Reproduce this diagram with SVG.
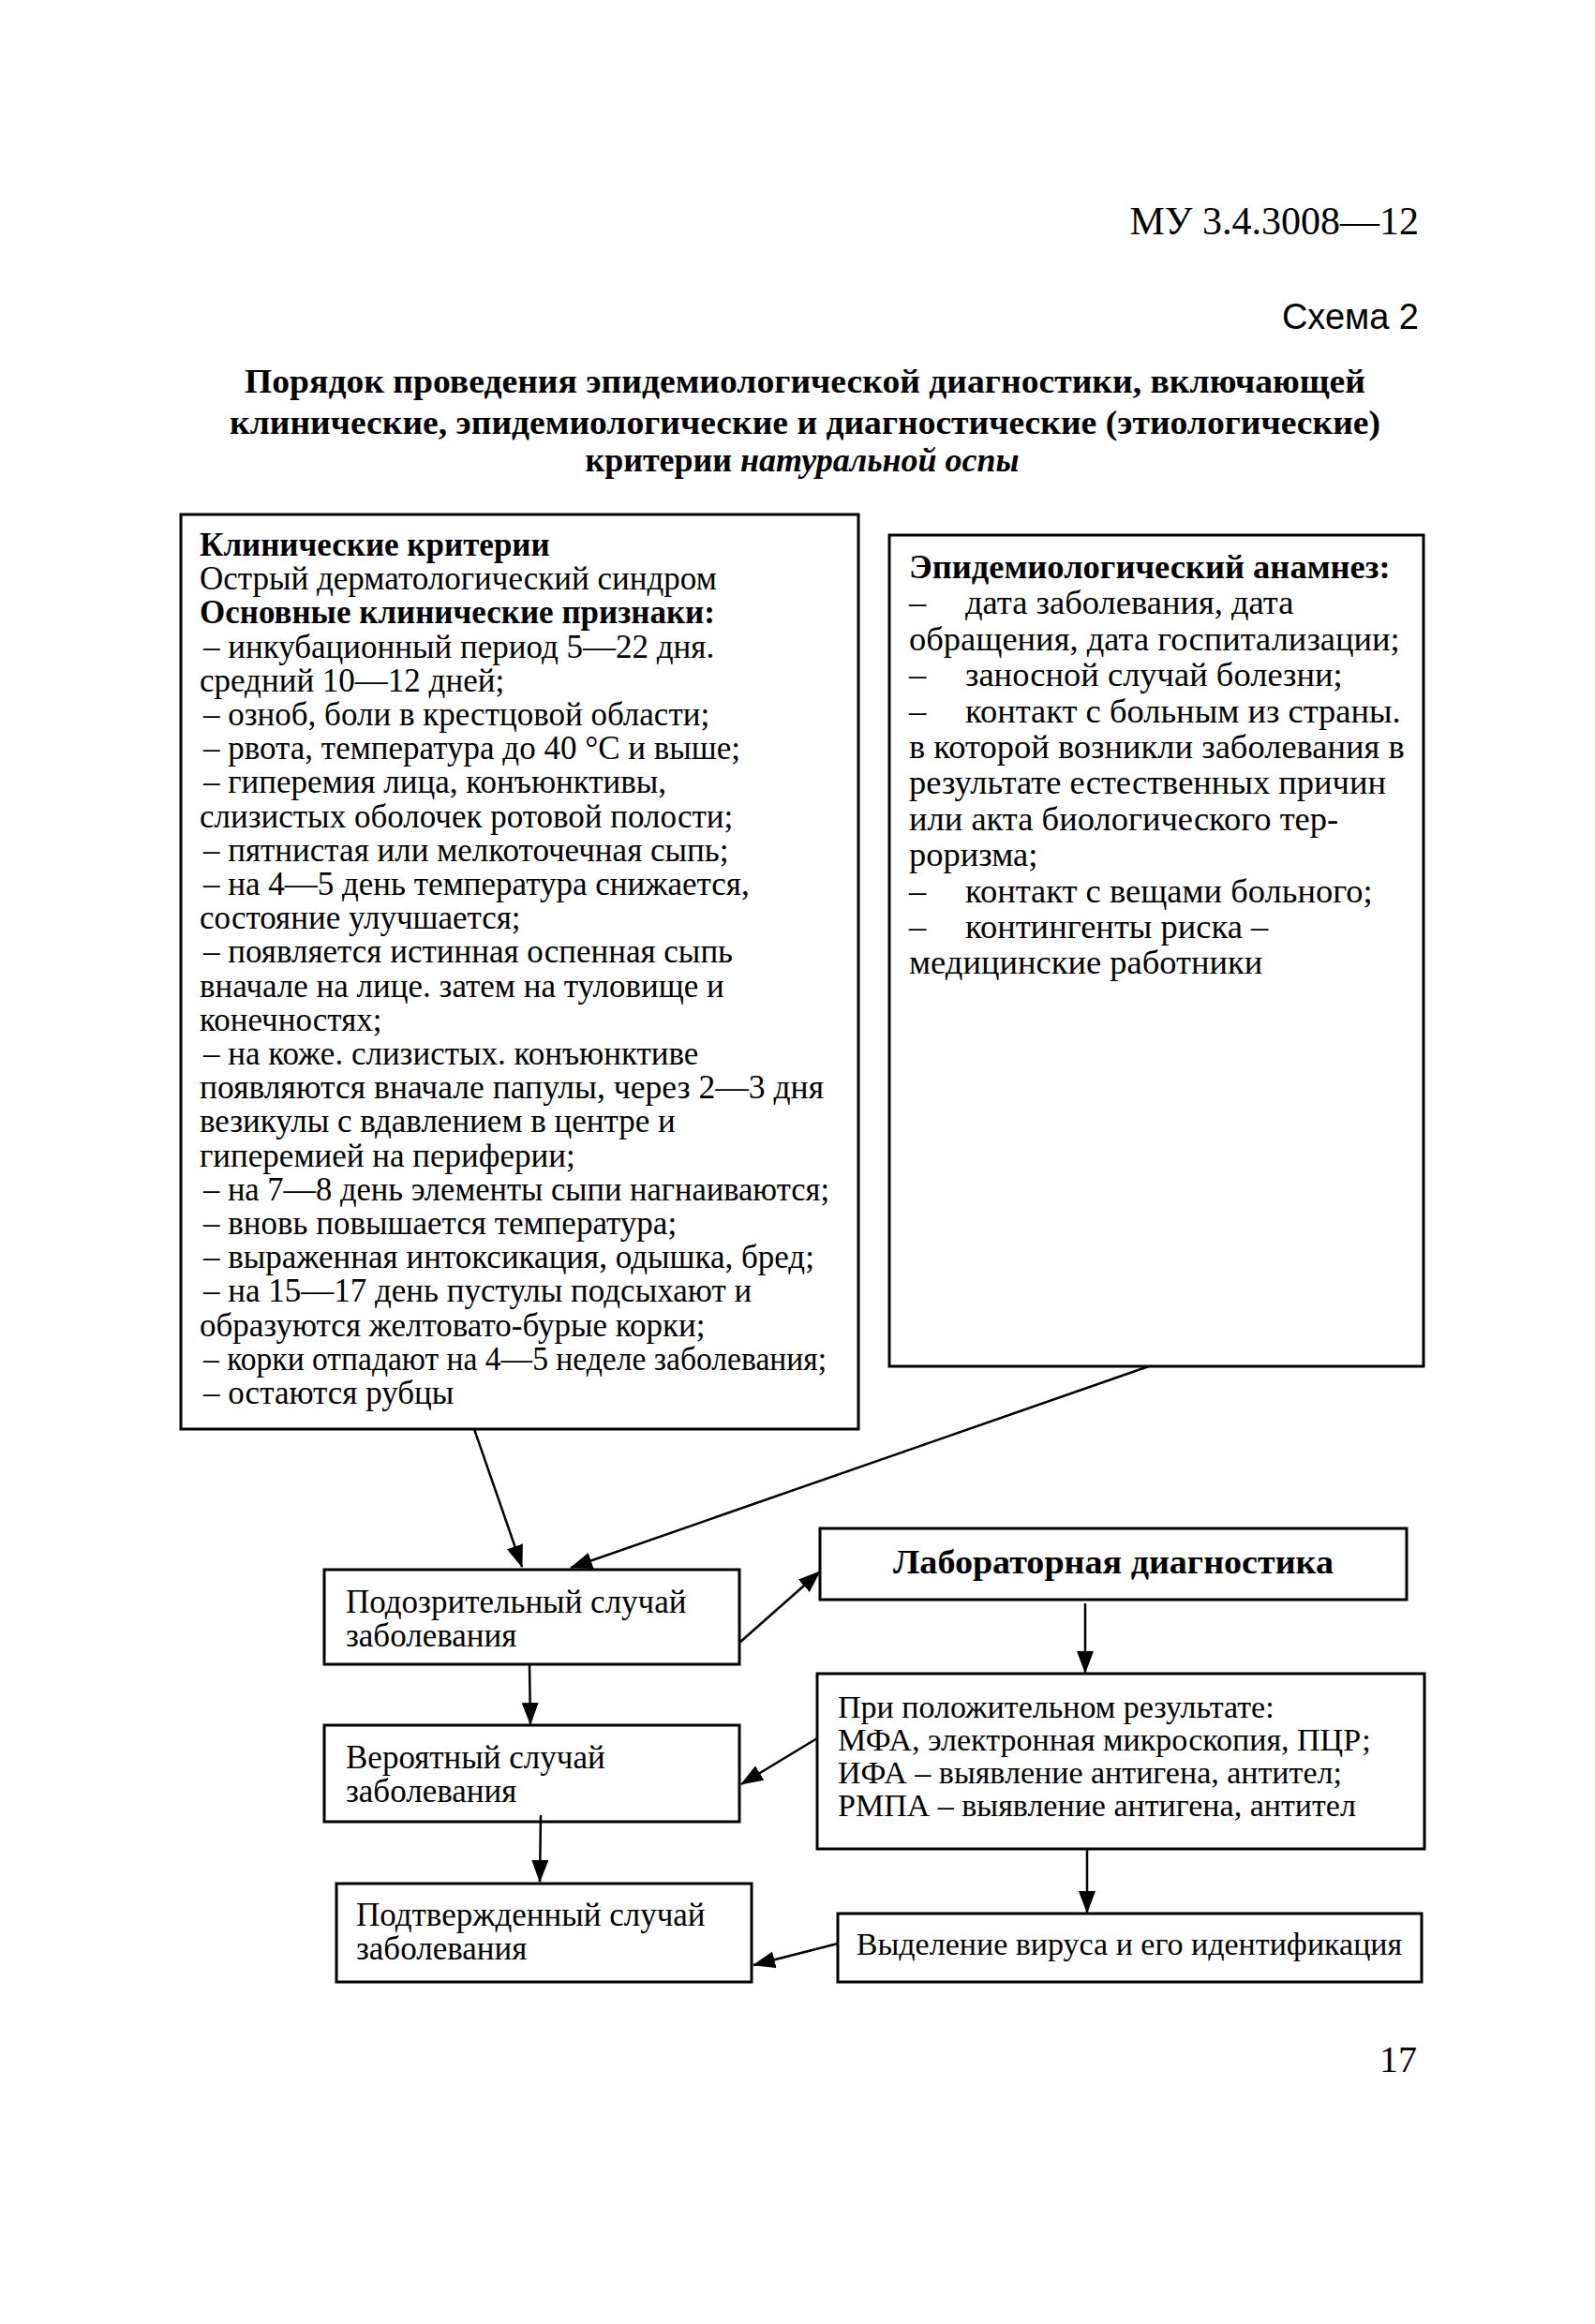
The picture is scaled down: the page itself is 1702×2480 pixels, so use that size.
<svg xmlns="http://www.w3.org/2000/svg" width="1702" height="2480" viewBox="0 0 1702 2480">
<style>
.t{font-family:"Liberation Serif","Times New Roman",serif;fill:#000}
.s{font-family:"Liberation Sans",Arial,sans-serif;fill:#000}
.b{font-weight:bold}
.i{font-style:italic}
.box{fill:#fff;stroke:#000;stroke-width:3}
.c{stroke:#000;stroke-width:2.5;fill:none}
.l{font-size:35px}
.r{font-size:36.5px}
.f{font-size:35px}
.g{font-size:34px}
</style>
<defs>
<marker id="ah" markerWidth="24" markerHeight="18" refX="23" refY="9" orient="auto" markerUnits="userSpaceOnUse">
<path d="M0,0 L24,9 L0,18 Z" fill="#000"/>
</marker>
</defs>
<rect x="0" y="0" width="1702" height="2480" fill="#fff"/>

<g id="header">
<text class="t" x="1514" y="250" font-size="42" text-anchor="end">МУ 3.4.3008—12</text>
<text class="s" x="1514" y="351" font-size="38" text-anchor="end">Схема 2</text>
<text class="t b" x="859" y="419" font-size="36" text-anchor="middle" textLength="1196" lengthAdjust="spacingAndGlyphs">Порядок проведения эпидемиологической диагностики, включающей</text>
<text class="t b" x="859" y="463" font-size="36" text-anchor="middle" textLength="1228" lengthAdjust="spacingAndGlyphs">клинические, эпидемиологические и диагностические (этиологические)</text>
<text class="t b" x="856" y="503" font-size="36" text-anchor="middle">критерии <tspan class="i">натуральной оспы</tspan></text>
</g>

<g id="node-clinical">
<rect class="box" x="193" y="549" width="723" height="976"/>
<text class="t l b" x="213" y="593">Клинические критерии</text>
<text class="t l" x="213" y="629">Острый дерматологический синдром</text>
<text class="t l b" x="213" y="665">Основные клинические признаки:</text>
<text class="t l" x="217" y="702">– инкубационный период 5—22 дня.</text>
<text class="t l" x="213" y="738">средний 10—12 дней;</text>
<text class="t l" x="217" y="774">– озноб, боли в крестцовой области;</text>
<text class="t l" x="217" y="810">– рвота, температура до 40 °С и выше;</text>
<text class="t l" x="217" y="846">– гиперемия лица, конъюнктивы,</text>
<text class="t l" x="213" y="883">слизистых оболочек ротовой полости;</text>
<text class="t l" x="217" y="919">– пятнистая или мелкоточечная сыпь;</text>
<text class="t l" x="217" y="955">– на 4—5 день температура снижается,</text>
<text class="t l" x="213" y="991">состояние улучшается;</text>
<text class="t l" x="217" y="1027">– появляется истинная оспенная сыпь</text>
<text class="t l" x="213" y="1064">вначале на лице. затем на туловище и</text>
<text class="t l" x="213" y="1100">конечностях;</text>
<text class="t l" x="217" y="1136">– на коже. слизистых. конъюнктиве</text>
<text class="t l" x="213" y="1172" textLength="666" lengthAdjust="spacingAndGlyphs">появляются вначале папулы, через 2—3 дня</text>
<text class="t l" x="213" y="1208">везикулы с вдавлением в центре и</text>
<text class="t l" x="213" y="1245">гиперемией на периферии;</text>
<text class="t l" x="217" y="1281" textLength="668" lengthAdjust="spacingAndGlyphs">– на 7—8 день элементы сыпи нагнаиваются;</text>
<text class="t l" x="217" y="1317">– вновь повышается температура;</text>
<text class="t l" x="217" y="1353">– выраженная интоксикация, одышка, бред;</text>
<text class="t l" x="217" y="1389">– на 15—17 день пустулы подсыхают и</text>
<text class="t l" x="213" y="1426">образуются желтовато-бурые корки;</text>
<text class="t l" x="217" y="1462" textLength="665" lengthAdjust="spacingAndGlyphs">– корки отпадают на 4—5 неделе заболевания;</text>
<text class="t l" x="217" y="1498">– остаются рубцы</text>
</g>

<g id="node-epid">
<rect class="box" x="949" y="571" width="570" height="887"/>
<text class="t r b" x="970" y="617">Эпидемиологический анамнез:</text>
<text class="t r" x="970" y="655">–<tspan x="1030">дата заболевания, дата</tspan></text>
<text class="t r" x="970" y="694">обращения, дата госпитализации;</text>
<text class="t r" x="970" y="732">–<tspan x="1030">заносной случай болезни;</tspan></text>
<text class="t r" x="970" y="771">–<tspan x="1030">контакт с больным из страны.</tspan></text>
<text class="t r" x="970" y="809">в которой возникли заболевания в</text>
<text class="t r" x="970" y="847">результате естественных причин</text>
<text class="t r" x="970" y="886">или акта биологического тер-</text>
<text class="t r" x="970" y="924">роризма;</text>
<text class="t r" x="970" y="963">–<tspan x="1030">контакт с вещами больного;</tspan></text>
<text class="t r" x="970" y="1001">–<tspan x="1030">контингенты риска –</tspan></text>
<text class="t r" x="970" y="1039">медицинские работники</text>
</g>

<g id="node-suspect">
<rect class="box" x="346" y="1675" width="443" height="101"/>
<text class="t f" x="369" y="1721">Подозрительный случай</text>
<text class="t f" x="369" y="1757">заболевания</text>
</g>

<g id="node-probable">
<rect class="box" x="346" y="1841" width="443" height="103"/>
<text class="t f" x="369" y="1887">Вероятный случай</text>
<text class="t f" x="369" y="1923">заболевания</text>
</g>

<g id="node-confirmed">
<rect class="box" x="359" y="2010" width="443" height="105"/>
<text class="t f" x="380" y="2055">Подтвержденный случай</text>
<text class="t f" x="380" y="2091">заболевания</text>
</g>

<g id="node-lab">
<rect class="box" x="875" y="1631" width="626" height="76"/>
<text class="t f b" x="1188" y="1679" text-anchor="middle" textLength="470" lengthAdjust="spacingAndGlyphs">Лабораторная диагностика</text>
</g>

<g id="node-positive">
<rect class="box" x="872" y="1786" width="648" height="187"/>
<text class="t g" x="894" y="1833">При положительном результате:</text>
<text class="t g" x="894" y="1868">МФА, электронная микроскопия, ПЦР;</text>
<text class="t g" x="894" y="1903">ИФА – выявление антигена, антител;</text>
<text class="t g" x="894" y="1938">РМПА – выявление антигена, антител</text>
</g>

<g id="node-isolation">
<rect class="box" x="894" y="2042" width="623" height="73"/>
<text class="t g" x="1205" y="2086" text-anchor="middle">Выделение вируса и его идентификация</text>
</g>

<g id="connectors">
<line class="c" x1="506" y1="1525" x2="557" y2="1672" marker-end="url(#ah)"/>
<line class="c" x1="1226" y1="1458" x2="609" y2="1673" marker-end="url(#ah)"/>
<line class="c" x1="789" y1="1753" x2="875" y2="1677" marker-end="url(#ah)"/>
<line class="c" x1="565" y1="1776" x2="566" y2="1840" marker-end="url(#ah)"/>
<line class="c" x1="577" y1="1937" x2="576" y2="2008" marker-end="url(#ah)"/>
<line class="c" x1="1158" y1="1711" x2="1158" y2="1785" marker-end="url(#ah)"/>
<line class="c" x1="872" y1="1855" x2="791" y2="1904" marker-end="url(#ah)"/>
<line class="c" x1="1160" y1="1973" x2="1160" y2="2041" marker-end="url(#ah)"/>
<line class="c" x1="894" y1="2074" x2="804" y2="2097" marker-end="url(#ah)"/>
</g>

<g id="footer">
<text class="t" x="1512" y="2211" font-size="40" text-anchor="end">17</text>
</g>
</svg>
